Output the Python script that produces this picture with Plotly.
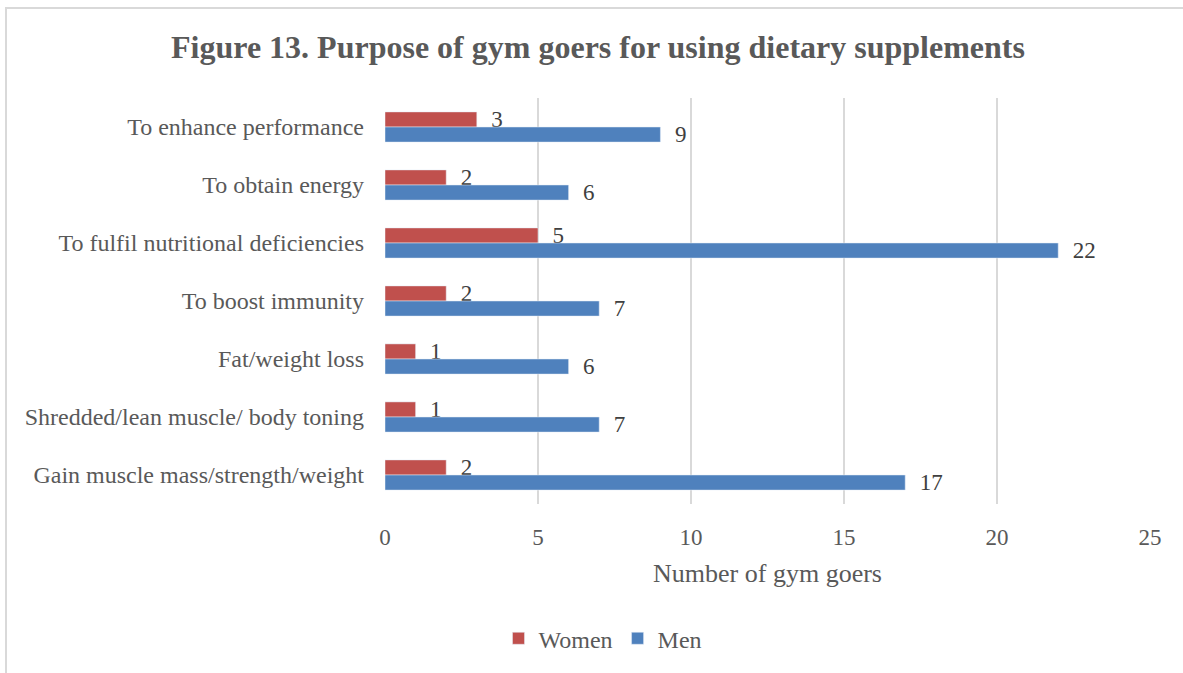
import plotly.graph_objects as go

# Purposes, listed top to bottom as displayed
purposes = [
    "To enhance performance",
    "To obtain energy",
    "To fulfil nutritional deficiencies",
    "To boost immunity",
    "Fat/weight loss",
    "Shredded/lean muscle/ body toning",
    "Gain muscle mass/strength/weight",
]
women = [3, 2, 5, 2, 1, 1, 2]
men = [9, 6, 22, 7, 6, 7, 17]
x_ticks = [0, 5, 10, 15, 20, 25]

TEXT = "#595959"
FONT = "Liberation Serif, Times New Roman, serif"

fig = go.Figure()
fig.add_trace(go.Bar(
    name="Women", y=purposes, x=women, orientation="h",
    marker=dict(color="#C0504D"),
    text=women, texttemplate="  %{x}", textposition="outside",
    textfont=dict(size=23, color="#404040", family=FONT),
    constraintext="none", cliponaxis=False,
))
fig.add_trace(go.Bar(
    name="Men", y=purposes, x=men, orientation="h",
    marker=dict(color="#4F81BD"),
    text=men, texttemplate="  %{x}", textposition="outside",
    textfont=dict(size=23, color="#404040", family=FONT),
    constraintext="none", cliponaxis=False,
))

L, R, T, B = 385, 33, 98, 165
W, H = 1183, 673
pw, ph = W - L - R, H - T - B

fig.update_layout(
    width=W, height=H,
    margin=dict(l=L, r=R, t=T, b=B),
    paper_bgcolor="white", plot_bgcolor="white",
    barmode="group", bargap=0.48, bargroupgap=0,
    font=dict(family=FONT, color=TEXT, size=22),
    title=dict(
        text="<b>Figure 13. Purpose of gym goers for using dietary supplements</b>",
        x=598 / W, xref="container", xanchor="center",
        y=1 - 47 / H, yref="container", yanchor="middle",
        font=dict(size=32, color=TEXT, family=FONT),
    ),
    xaxis=dict(
        range=[0, 25], tickvals=x_ticks, showgrid=True,
        gridcolor="#D9D9D9", gridwidth=1.5, zeroline=False,
        showline=False, ticks="",
        tickfont=dict(size=23, color=TEXT), ticklabelstandoff=17,
        title=dict(text="Number of gym goers", font=dict(size=26, color=TEXT), standoff=14),
    ),
    yaxis=dict(
        autorange="reversed", showgrid=False, showline=False, ticks="",
        tickfont=dict(size=24, color=TEXT), ticklabelstandoff=20,
    ),
    legend=dict(
        orientation="h", x=(603 - L) / pw,
        xanchor="center", y=(H - B - 644) / ph, yanchor="middle",
        font=dict(size=24, color=TEXT), itemwidth=30,
    ),
    showlegend=True,
)

# Outer chart frame: left and top edges (the rest runs off the page)
fx0 = (6 - L) / pw
fx1 = (W + 5 - L) / pw
fy0 = (H - B - (H + 20)) / ph
fy1 = (H - B - 7) / ph
fig.add_shape(
    type="path", xref="paper", yref="paper",
    path=f"M {fx0} {fy0} L {fx0} {fy1} L {fx1} {fy1}",
    line=dict(color="#D9D9D9", width=2),
    layer="below",
)

fig.write_html("out.html")
